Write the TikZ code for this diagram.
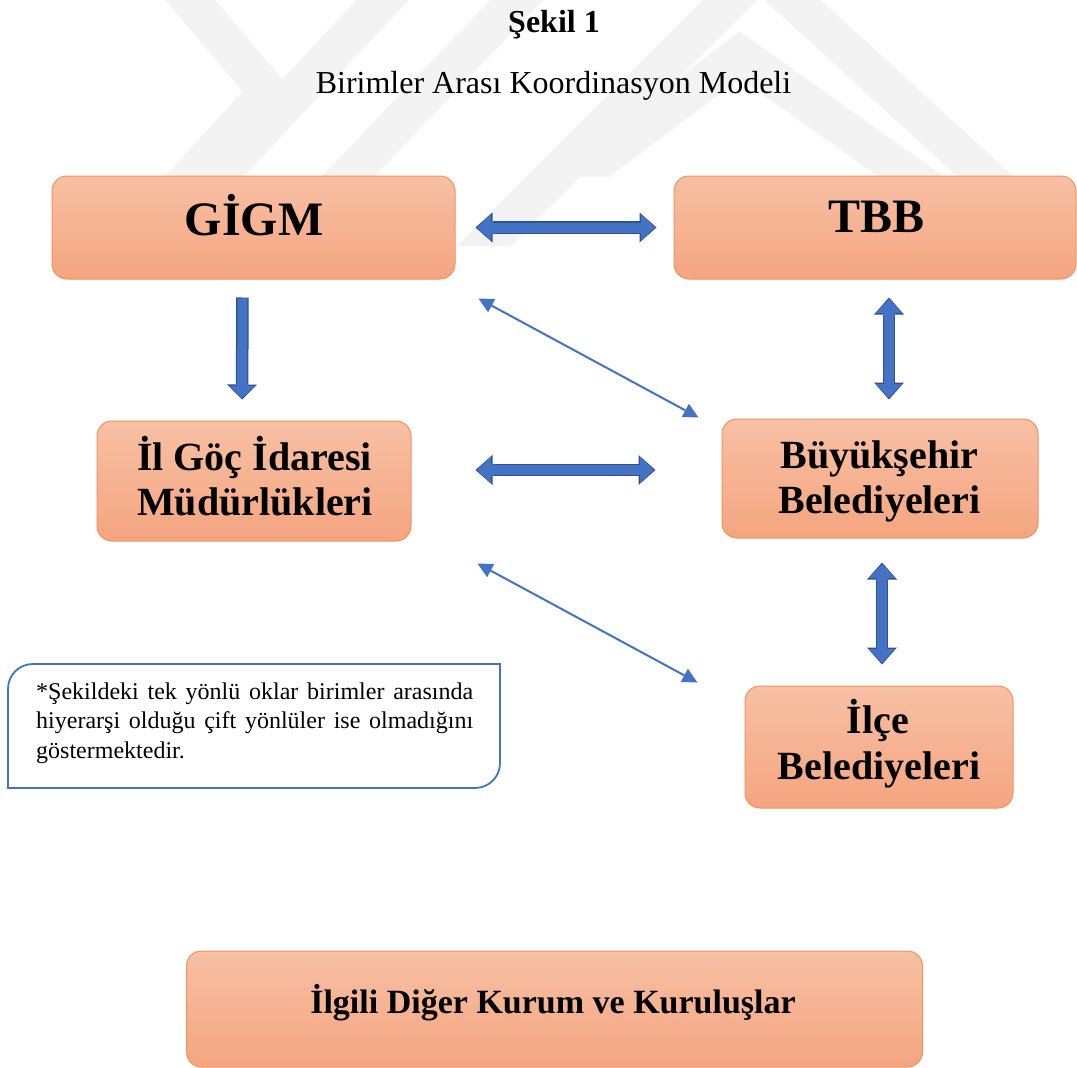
\documentclass[tikz,border=0pt]{standalone}
\usepackage{fontspec}
\setmainfont{Liberation Serif}
\usetikzlibrary{arrows.meta,calc}
\definecolor{boxtop}{RGB}{247,192,164}
\definecolor{boxbot}{RGB}{245,165,128}
\definecolor{boxline}{RGB}{240,148,92}
\definecolor{ablue}{RGB}{68,114,196}
\definecolor{aborder}{RGB}{47,82,143}
\definecolor{wmcol}{RGB}{243,243,243}
\begin{document}
\begin{tikzpicture}[x=1pt,y=-1pt,
  box/.style={draw=boxline, line width=1pt, top color=boxtop, bottom color=boxbot, rounded corners=15pt, inner sep=0pt},
  lbl/.style={font=\fontsize{40}{45}\selectfont\bfseries, inner sep=0pt, anchor=base},
  biglbl/.style={lbl, font=\fontsize{48}{56}\selectfont\bfseries},
  wmark/.style={draw=wmcol, line width=38pt},
  bouter/.style={line width=12.5pt, draw=aborder},
  binner/.style={line width=10pt, draw=ablue, shorten >=1.5pt, shorten <=1.5pt},
  dtipo/.style={arrows={Triangle[width=30pt,length=17pt,line width=0pt]-Triangle[width=30pt,length=17pt,line width=0pt]}},
  dtipi/.style={arrows={Triangle[width=26pt,length=14pt,line width=0pt]-Triangle[width=26pt,length=14pt,line width=0pt]}},
  stipo/.style={arrows={-Triangle[width=30pt,length=15pt,line width=0pt]}},
  stipi/.style={arrows={-Triangle[width=26pt,length=12pt,line width=0pt]}},
  thin/.style={draw=ablue, line width=2pt, arrows={Triangle[width=15pt,length=15pt,line width=0pt]-Triangle[width=15pt,length=15pt,line width=0pt]}},
  noteline/.style={draw=ablue, line width=1.8pt}
]
\useasboundingbox (0,0) rectangle (1077,1068);
\fill[white] (0,0) rectangle (1077,1068);

% watermark
\begin{scope}
  \clip (0,-10) rectangle (1077,176);
  \draw[wmark] (165,-30) -- (268,92) -- (178,190);
  \draw[wmark] (205,190) -- (420,-40);
  \draw[wmark] (335,190) -- (555,-40);
  \draw[wmark] (560,190) -- (740,55) -- (930,190);
  \draw[wmark] (760,-30) -- (1000,190);
\end{scope}
\begin{scope}
  \clip (0,-10) rectangle (1077,245);
  \draw[wmark] (470,260) -- (770,-40);
\end{scope}

% titles
\node[anchor=base, inner sep=0pt, font=\fontsize{32}{38}\selectfont\bfseries] (title) at (554,32) {Şekil 1};
\node[anchor=base, inner sep=0pt, font=\fontsize{32}{38}\selectfont] (subtitle) at (553.5,93) {Birimler Arası Koordinasyon Modeli};

% boxes
\node[box, minimum width=403pt, minimum height=103pt] (gigm) at (253.5,227.5) {};
\node[box, minimum width=402pt, minimum height=103pt] (tbb) at (875,227.5) {};
\node[box, minimum width=314pt, minimum height=120pt] (ilgoc) at (254,481) {};
\node[box, minimum width=316pt, minimum height=119pt] (bb) at (880,478.5) {};
\node[box, minimum width=268pt, minimum height=122pt] (ilce) at (879,747) {};
\node[box, minimum width=736pt, minimum height=116pt] (diger) at (554.5,1009) {};

% labels
\node[biglbl] (gigmt) at (254,235) {GİGM};
\node[biglbl] (tbbt) at (876.5,232) {TBB};
\node[lbl] (ilgoct1) at (254.5,470) {İl Göç İdaresi};
\node[lbl] (ilgoct2) at (255,515) {Müdürlükleri};
\node[lbl] (bbt1) at (879.5,468) {Büyükşehir};
\node[lbl] (bbt2) at (879.5,513) {Belediyeleri};
\node[lbl] (ilcet1) at (878,733) {İlçe};
\node[lbl] (ilcet2) at (879,779) {Belediyeleri};
\node[lbl, font=\fontsize{34}{40}\selectfont\bfseries] (digert) at (553,1013) {İlgili Diğer Kurum ve Kuruluşlar};

% note
\draw[noteline] (8,788) -- (8,689) .. controls (8,675) and (19,664) .. (33,664) -- (500,664) -- (500,763) .. controls (500,777) and (489,788) .. (475,788) -- cycle;
\node[anchor=north west, inner sep=0pt, text width=437pt, align=justify, font=\fontsize{24}{29.5}\selectfont] (note) at (36,682.5)
  {*Şekildeki tek yönlü oklar birimler arasında\linebreak hiyerarşi olduğu çift yönlüler ise olmadığını\linebreak göstermektedir.};

% connector end points
\coordinate (a1) at ($(gigm.east)+(20,0)$);
\coordinate (a2) at ($(tbb.west)+(-17,0)$);
\coordinate (b1) at ($(gigm.south)+(-11,18)$);
\coordinate (b2) at ($(ilgoc.north)+(-12,-21)$);
\coordinate (c1) at ($(tbb.south)+(14,18)$);
\coordinate (c2) at ($(bb.north)+(9,-19)$);
\coordinate (d1) at ($(ilgoc.east)+(64,-11)$);
\coordinate (d2) at ($(bb.west)+(-66,-8.5)$);
\coordinate (e1) at ($(bb.south)+(2,24)$);
\coordinate (e2) at ($(ilce.north)+(3,-21)$);
\coordinate (f1) at ($(gigm.south east)+(23,19)$);
\coordinate (f2) at ($(bb.north west)+(-23,-1)$);
\coordinate (g1) at ($(ilgoc.south east)+(66,22)$);
\coordinate (g2) at ($(ilce.north west)+(-47,-3)$);

% block arrows
\draw[bouter, dtipo] (a1) -- (a2);
\draw[binner, dtipi] (a1) -- (a2);
\draw[bouter, stipo] (b1) -- (b2);
\draw[binner, stipi, shorten <=0.8pt] (b1) -- (b2);
\draw[bouter, dtipo] (c1) -- (c2);
\draw[binner, dtipi] (c1) -- (c2);
\draw[bouter, dtipo] (d1) -- (d2);
\draw[binner, dtipi] (d1) -- (d2);
\draw[bouter, dtipo] (e1) -- (e2);
\draw[binner, dtipi] (e1) -- (e2);

% thin arrows
\draw[thin] (f1) -- (f2);
\draw[thin] (g1) -- (g2);
\end{tikzpicture}
\end{document}
